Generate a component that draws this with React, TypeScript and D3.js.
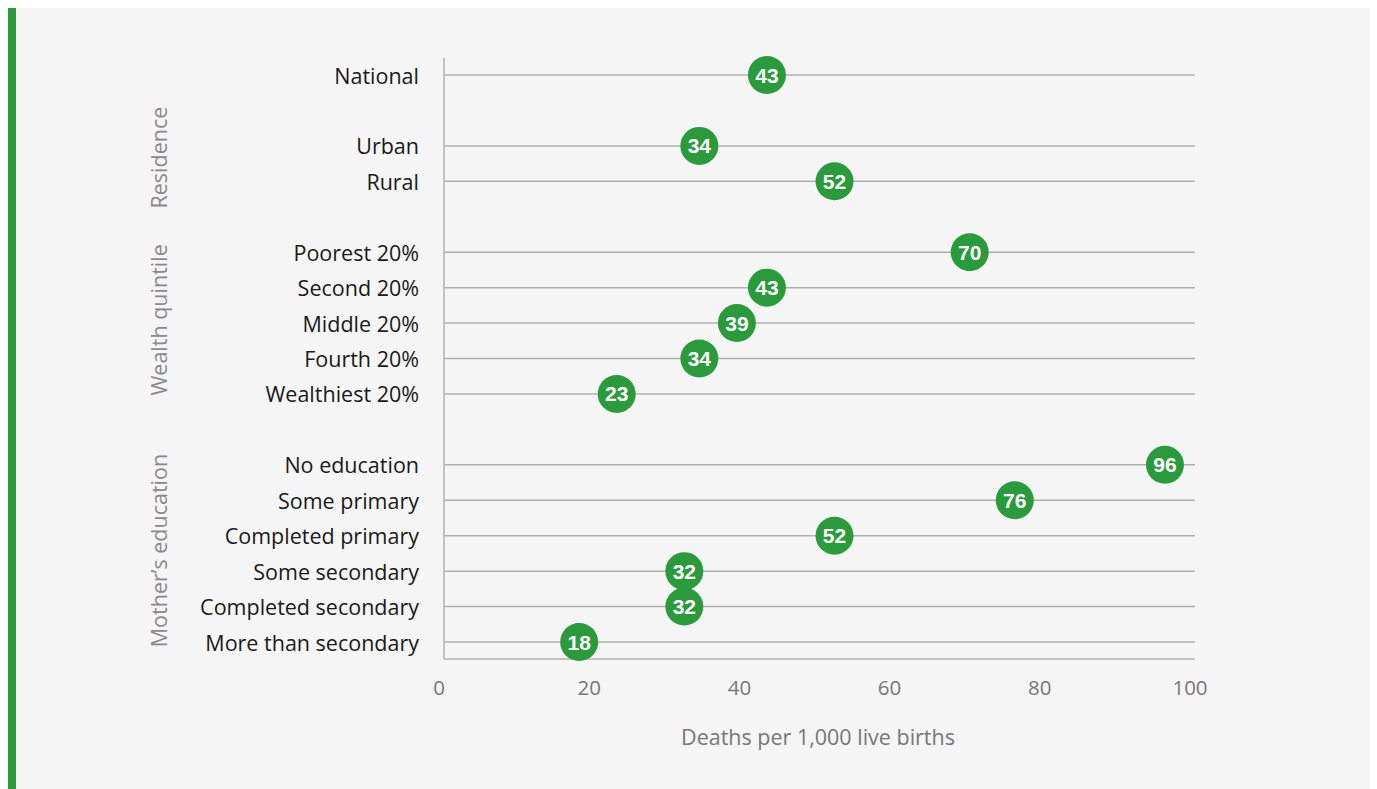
import React from "react";
import * as d3 from "d3";

const categories = [
  "National",
  "Urban",
  "Rural",
  "Poorest 20%",
  "Second 20%",
  "Middle 20%",
  "Fourth 20%",
  "Wealthiest 20%",
  "No education",
  "Some primary",
  "Completed primary",
  "Some secondary",
  "Completed secondary",
  "More than secondary",
];
const slots = [0, 2, 3, 5, 6, 7, 8, 9, 11, 12, 13, 14, 15, 16];
const values = [43, 34, 52, 70, 43, 39, 34, 23, 96, 76, 52, 32, 32, 18];
const groups = ["Residence", "Wealth quintile", "Mother\u2019s education"];
const groupCenters = [2.33, 6.91, 13.42];
const xTicks = [0, 20, 40, 60, 80, 100];
const xTitle = "Deaths per 1,000 live births";

const FONT = "'Open Sans', 'Liberation Sans', Arial, sans-serif";
const NUMFONT = "'Liberation Sans', Arial, sans-serif";
const GREEN = "#2b9a3c";

export default function App() {
  const W = 1377;
  const H = 789;
  const x = d3.scaleLinear().domain([0, 100]).range([444, 1195]);
  const y = d3.scaleLinear().domain([0, 16]).range([75, 642]);
  const axisTop = 58;
  const axisBottom = 659;

  return (
    <svg
      width={W}
      height={H}
      style={{ position: "fixed", left: 0, top: 0, display: "block" }}
      fontFamily={FONT}
    >
      <rect x={0} y={0} width={W} height={H} fill="#ffffff" />
      <rect x={8} y={8} width={1362} height={H - 8} fill="#f5f5f5" />
      <rect x={8} y={8} width={8} height={H - 8} fill={GREEN} />

      {slots.map((s, i) => (
        <line
          key={"g" + i}
          x1={x(0)}
          x2={x(100)}
          y1={y(s)}
          y2={y(s)}
          stroke="#b0b0b0"
          strokeWidth={1.5}
        />
      ))}
      <line x1={x(0)} x2={x(0)} y1={axisTop} y2={axisBottom} stroke="#b0b0b0" strokeWidth={1.5} />
      <line x1={x(0)} x2={x(100)} y1={axisBottom} y2={axisBottom} stroke="#b0b0b0" strokeWidth={1.5} />

      {xTicks.map((t) => (
        <text
          key={"t" + t}
          x={x(t) - 5}
          y={687}
          textAnchor="middle"
          dominantBaseline="central"
          fontSize={20.5}
          fill="#777"
        >
          {t}
        </text>
      ))}
      <text x={818} y={736} textAnchor="middle" dominantBaseline="central" fontSize={21.5} fill="#777">
        {xTitle}
      </text>

      {categories.map((c, i) => (
        <text
          key={"c" + i}
          x={419}
          y={y(slots[i])}
          textAnchor="end"
          dominantBaseline="central"
          fontSize={21.5}
          fill="#1a1a1a"
        >
          {c}
        </text>
      ))}

      {groups.map((g, i) => (
        <text
          key={"gr" + i}
          transform={`translate(158,${y(groupCenters[i])}) rotate(-90)`}
          textAnchor="middle"
          dominantBaseline="central"
          fontSize={21.5}
          fill="#8a8a8a"
        >
          {g}
        </text>
      ))}

      {values.map((v, i) => (
        <g key={"d" + i} transform={`translate(${x(v)},${y(slots[i])})`}>
          <circle r={19} fill={GREEN} />
          <text
            textAnchor="middle"
            dominantBaseline="central"
            fontSize={21}
            fontWeight="bold"
            fontFamily={NUMFONT}
            fill="#ffffff"
          >
            {v}
          </text>
        </g>
      ))}
    </svg>
  );
}
